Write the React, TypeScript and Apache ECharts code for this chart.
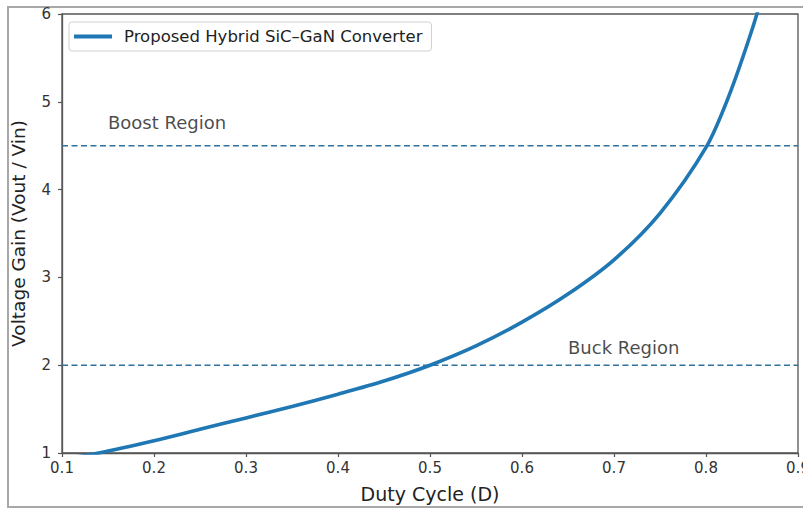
import React, { useEffect, useRef } from "react";
import * as echarts from "echarts";

// Duty cycle (x) and voltage gain (y)
const dutyCycle = [0.1, 0.14, 0.2, 0.25, 0.3, 0.35, 0.4, 0.45, 0.5, 0.55, 0.6, 0.65, 0.7, 0.75, 0.8, 0.825, 0.85, 0.865];
const voltageGain = [0.93, 1.0, 1.14, 1.27, 1.4, 1.53, 1.67, 1.82, 2.0, 2.22, 2.49, 2.81, 3.2, 3.73, 4.48, 5.07, 5.82, 6.35];

const seriesName = "Proposed Hybrid SiC\u2013GaN Converter";

// Region threshold lines
const thresholdNames = ["Boost threshold", "Buck threshold"];
const thresholdValues = [4.5, 2.0];

// Region annotations
const regionLabels = ["Boost Region", "Buck Region"];
const regionLabelX = [0.15, 0.65];
const regionLabelY = [4.76, 2.2];

const xTicks = { min: 0.1, max: 0.9, interval: 0.1 };
const yTicks = { min: 1, max: 6, interval: 1 };

const FONT = "DejaVu Sans";
const AXIS_COLOR = "#555";

export default function App() {
  const ref = useRef<HTMLDivElement>(null);

  useEffect(() => {
    if (!ref.current) return;
    const chart = echarts.init(ref.current, undefined, { renderer: "svg" });

    const curve = dutyCycle.map((d, i) => [d, voltageGain[i]]);

    const thresholdSeries = thresholdValues.map((v, i) => ({
      name: thresholdNames[i],
      type: "line",
      data: [
        [xTicks.min, v],
        [xTicks.max, v],
      ],
      symbol: "none",
      silent: true,
      lineStyle: { color: "#2f72a0", width: 1.6, type: [6, 3.5] },
      z: 2,
    }));

    const option: any = {
      animation: false,
      textStyle: { fontFamily: FONT },
      grid: {
        left: 62,
        right: 5,
        top: 14,
        bottom: 56,
        show: true,
        borderColor: AXIS_COLOR,
        borderWidth: 1.3,
        backgroundColor: "transparent",
        outerBoundsMode: "none",
        containLabel: false,
      },
      graphic: [
        {
          type: "rect",
          shape: { x: 8, y: 7, width: 805, height: 500 },
          style: { fill: "none", stroke: "#a8a8a8", lineWidth: 2 },
          silent: true,
          z: -10,
        },
      ],
      legend: {
        data: [seriesName],
        left: 69,
        top: 22,
        icon: "rect",
        itemWidth: 38,
        itemHeight: 4,
        padding: [6, 9, 6, 5],
        borderColor: "#d0d0d0",
        borderWidth: 1,
        borderRadius: 3,
        backgroundColor: "rgba(255,255,255,0.85)",
        textStyle: {
          fontFamily: FONT,
          fontSize: 16.5,
          color: "#222",
          padding: [0, 0, 0, 7],
          lineHeight: 17,
        },
      },
      xAxis: {
        type: "value",
        min: xTicks.min,
        max: xTicks.max,
        interval: xTicks.interval,
        name: "Duty Cycle (D)",
        nameLocation: "middle",
        nameGap: 31,
        nameTextStyle: { fontFamily: FONT, fontSize: 19, color: "#222" },
        axisLine: { show: true, lineStyle: { color: AXIS_COLOR, width: 1.3 } },
        axisTick: { show: true, length: 4, lineStyle: { color: AXIS_COLOR, width: 1.2 } },
        axisLabel: {
          fontFamily: FONT,
          fontSize: 15,
          color: "#333",
          margin: 7,
          showMaxLabel: true,
          formatter: (v: number) => v.toFixed(1),
        },
        splitLine: { show: false },
      },
      yAxis: {
        type: "value",
        min: yTicks.min,
        max: yTicks.max,
        interval: yTicks.interval,
        name: "Voltage Gain (Vout / Vin)",
        nameLocation: "middle",
        nameGap: 34,
        nameTextStyle: { fontFamily: FONT, fontSize: 18.5, color: "#222" },
        axisLine: { show: true, lineStyle: { color: AXIS_COLOR, width: 1.3 } },
        axisTick: { show: true, length: 4, lineStyle: { color: AXIS_COLOR, width: 1.2 } },
        axisLabel: {
          fontFamily: FONT,
          fontSize: 15,
          color: "#333",
          margin: 11,
          formatter: (v: number) => String(v),
        },
        splitLine: { show: false },
      },
      series: [
        ...thresholdSeries,
        {
          name: seriesName,
          type: "line",
          data: curve,
          symbol: "none",
          smooth: 0.3,
          clip: true,
          lineStyle: { color: "#1f77b4", width: 3.6 },
          itemStyle: { color: "#1f77b4" },
          z: 3,
        },
        {
          name: "Region labels",
          type: "scatter",
          symbolSize: 0,
          silent: true,
          data: regionLabels.map((n, i) => ({ name: n, value: [regionLabelX[i], regionLabelY[i]] })),
          label: {
            show: true,
            position: "right",
            distance: 0,
            formatter: (p: any) => p.name,
            fontFamily: FONT,
            fontSize: 18,
            color: "#1a1a1a",
            verticalAlign: "middle",
          },
          z: 4,
        },
      ],
    };

    chart.setOption(option);
    return () => chart.dispose();
  }, []);

  return (
    <div
      ref={ref}
      style={{ position: "absolute", left: 0, top: 0, width: 803, height: 509, background: "#fff" }}
    />
  );
}
